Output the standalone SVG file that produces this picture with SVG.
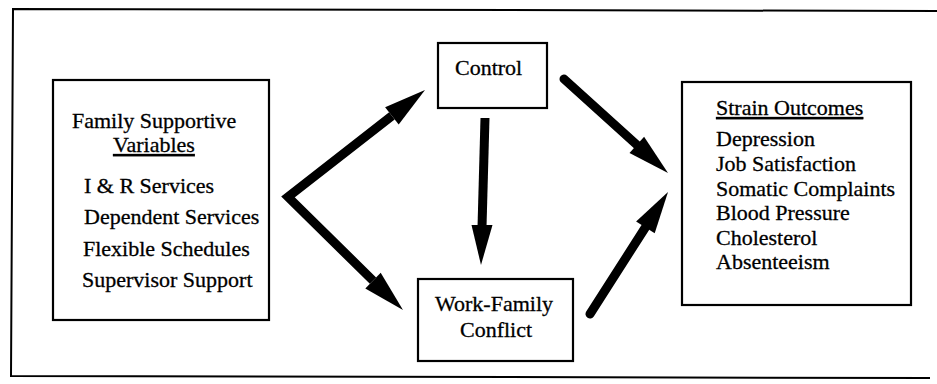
<svg xmlns="http://www.w3.org/2000/svg" width="937" height="384" viewBox="0 0 937 384">
<style>
.box{fill:#fff;stroke:#000;stroke-width:2.2}
.t{font-family:"Liberation Serif","Times New Roman",serif;font-size:22px;fill:#000;stroke:#000;stroke-width:0.3}
.u{text-decoration:underline}
.shaft{fill:none;stroke:#000;stroke-width:9;stroke-linejoin:miter;stroke-miterlimit:6}
.head{fill:#000}
</style>
<rect width="937" height="384" fill="#fff"/>
<path d="M937,11 L13,9 L11,376 L930,378" fill="none" stroke="#000" stroke-width="2"/>
<g id="family-supportive">
<rect class="box" x="53" y="80" width="216" height="240"/>
<text class="t" x="72" y="128">Family Supportive</text>
<text class="t u" x="113" y="152">Variables</text>
<text class="t" x="84" y="193">I &amp; R Services</text>
<text class="t" x="84" y="224">Dependent Services</text>
<text class="t" x="83" y="256">Flexible Schedules</text>
<text class="t" x="82" y="287">Supervisor Support</text>
</g>
<g id="control">
<rect class="box" x="438" y="43" width="109" height="65"/>
<text class="t" x="455" y="75">Control</text>
</g>
<g id="work-family-conflict">
<rect class="box" x="418" y="279" width="155" height="82"/>
<text class="t" x="435" y="311">Work-Family</text>
<text class="t" x="460" y="337">Conflict</text>
</g>
<g id="strain-outcomes">
<rect class="box" x="682" y="82" width="229" height="223"/>
<text class="t u" x="716" y="115">Strain Outcomes</text>
<text class="t" x="716" y="146">Depression</text>
<text class="t" x="716" y="171">Job Satisfaction</text>
<text class="t" x="716" y="196">Somatic Complaints</text>
<text class="t" x="716" y="220">Blood Pressure</text>
<text class="t" x="716" y="245">Cholesterol</text>
<text class="t" x="716" y="269">Absenteeism</text>
</g>
<g id="connectors">
<polyline class="shaft" points="391.9,115.9 288,197 373,280.6"/>
<polygon class="head" points="398.7,124.6 425,90 385.1,107.2"/>
<polygon class="head" points="365.3,288.4 403,310 380.7,272.8"/>
<line class="shaft" x1="485" y1="118" x2="482" y2="227" stroke-width="8"/>
<polygon class="head" points="471.5,225 492.5,225 481,265"/>
<line class="shaft" x1="564" y1="79" x2="637" y2="145" stroke-width="10" stroke-linecap="round"/>
<polygon class="head" points="629.5,153.1 668,173 644.1,136.7"/>
<line class="shaft" x1="590" y1="314" x2="645" y2="228" stroke-width="10" stroke-linecap="round"/>
<polygon class="head" points="654.7,233.3 668,192 636.1,221.5"/>
</g>
</svg>
